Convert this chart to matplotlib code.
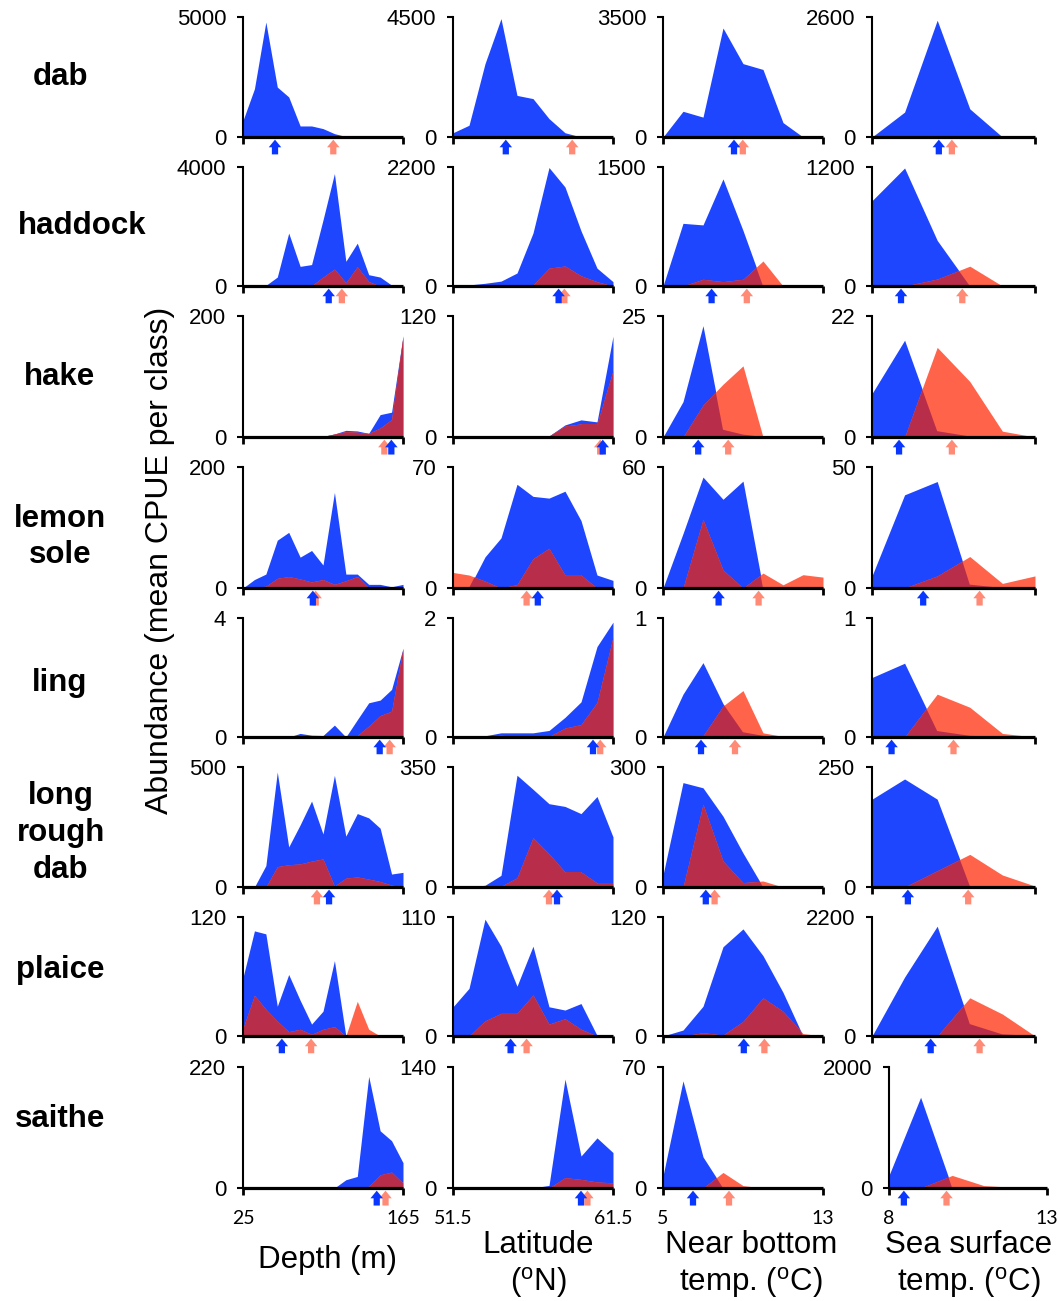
import matplotlib
matplotlib.use("Agg")
import matplotlib.pyplot as plt
import matplotlib.transforms as mtransforms

plt.rcParams['font.family'] = ['Liberation Sans', 'DejaVu Sans']
plt.rcParams['mathtext.fontset'] = 'custom'
plt.rcParams['mathtext.rm'] = 'Liberation Sans'

# x classes of the four environmental variables
depth = [25, 35, 45, 55, 65, 75, 85, 95, 105, 115, 125, 135, 145, 155, 165]
lat = [51.5, 52.5, 53.5, 54.5, 55.5, 56.5, 57.5, 58.5, 59.5, 60.5, 61.5]
nbt = [5, 6, 7, 8, 9, 10, 11, 12, 13]
sst = [8, 9, 10, 11, 12, 13]
x_classes = [depth, lat, nbt, sst]
x_labels = ['Depth (m)', 'Latitude\n($^{\\rm o}$N)',
            'Near bottom\ntemp. ($^{\\rm o}$C)', 'Sea surface\ntemp. ($^{\\rm o}$C)']

species = ['dab', 'haddock', 'hake', 'lemon\nsole', 'ling',
           'long\nrough\ndab', 'plaice', 'saithe']

# axis maxima (depth, lat, nbt, sst) per species
ymax = [[5000, 4500, 3500, 2600],
        [4000, 2200, 1500, 1200],
        [200, 120, 25, 22],
        [200, 70, 60, 50],
        [4, 2, 1, 1],
        [500, 350, 300, 250],
        [120, 110, 120, 2200],
        [220, 140, 70, 2000]]

# mean CPUE per class, blue series (depth, lat, nbt, sst)
dab_blue = [[690, 2010, 4790, 2080, 1670, 460, 460, 350, 140, 20, 0, 0, 0, 0, 0],
            [160, 440, 2750, 4440, 1560, 1440, 690, 160, 0, 0, 0],
            [0, 750, 580, 3180, 2140, 1970, 420, 0, 0],
            [0, 540, 2530, 610, 0, 0]]
dab_red = [[0, 5, 10, 10, 10, 10, 10, 10, 5, 5, 0, 0, 0, 0, 0],
           [0, 0, 0, 5, 10, 10, 10, 10, 5, 0, 0],
           [0, 0, 5, 10, 10, 5, 0, 0, 0],
           [0, 0, 20, 0, 0, 0]]

haddock_blue = [[0, 10, 20, 300, 1780, 660, 720, 2220, 3780, 830, 1440, 380, 300, 30, 0],
                [0, 20, 50, 90, 240, 980, 2190, 1830, 1020, 330, 80],
                [0, 790, 770, 1350, 700, 0, 0, 0, 0],
                [860, 1190, 460, 0, 0, 0]]
haddock_red = [[0, 0, 0, 5, 5, 5, 10, 300, 570, 110, 650, 150, 0, 0, 0],
               [0, 0, 0, 0, 0, 20, 330, 370, 190, 80, 0],
               [0, 0, 85, 55, 85, 315, 0, 0, 0],
               [0, 0, 70, 200, 0, 0]]

hake_blue = [[0, 0, 0, 1, 1, 1, 1, 1, 5, 11, 10, 6, 37, 41, 167],
             [0, 0, 0, 0, 0, 1, 1, 12, 17, 15, 100],
             [0, 7.3, 23, 1.5, 0.5, 0, 0, 0, 0],
             [7.9, 17.6, 1.06, 0.1, 0, 0]]
hake_red = [[0, 0, 0, 1, 1, 1, 1, 1, 5, 9, 8, 6, 15, 29, 167],
            [0, 0, 0, 0, 1, 1, 1, 11, 13, 13, 66],
            [0, 0, 6.6, 10.9, 14.7, 0, 0, 0, 0],
            [0, 0, 16.3, 10.1, 1.06, 0]]

lemon_sole_blue = [[0, 14, 23, 79, 92, 51, 62, 38, 158, 23, 23, 6, 6, 2, 6],
                   [0, 0, 18, 29, 60, 53, 52, 56, 39, 7.5, 4.4],
                   [0, 27, 55, 44, 53, 0, 0, 0, 0],
                   [5, 38.5, 44, 1.4, 0, 0]]
lemon_sole_red = [[0, 1, 3, 16, 19, 15, 10, 14, 6, 12, 19, 0, 0, 0, 0],
                  [9, 7.5, 4, 0, 2, 17, 23, 7.5, 7.5, 0, 0],
                  [0, 0, 34, 9, 0, 7.4, 1.6, 6.6, 5.4],
                  [0, 0, 5, 13, 1.9, 5]]

ling_blue = [[0, 0, 0.05, 0, 0, 0.12, 0.06, 0.05, 0.4, 0, 0.58, 1.15, 1.24, 1.6, 2.98],
             [0, 0, 0.02, 0.07, 0.07, 0.07, 0.11, 0.33, 0.59, 1.52, 1.93],
             [0, 0.36, 0.625, 0.28, 0.04, 0.01, 0, 0, 0],
             [0.5, 0.62, 0.05, 0.01, 0, 0]]
ling_red = [[0, 0, 0, 0, 0, 0, 0.05, 0.05, 0.05, 0.05, 0.05, 0.37, 0.72, 0.87, 2.98],
            [0, 0, 0.01, 0.03, 0.01, 0.01, 0.01, 0.15, 0.21, 0.58, 1.68],
            [0, 0, 0.01, 0.26, 0.39, 0.035, 0.005, 0, 0],
            [0, 0, 0.36, 0.25, 0.03, 0]]

long_rough_dab_blue = [[0, 0, 89, 479, 167, 259, 358, 221, 465, 212, 306, 288, 245, 54, 61],
                       [0, 0, 5, 34, 326, 285, 243, 235, 214, 264, 146],
                       [30, 261, 248, 177, 85, 0, 0, 0, 0],
                       [183, 225, 183, 2, 0, 0]]
long_rough_dab_red = [[0, 0, 0, 85, 93, 96, 108, 117, 4, 37, 42, 33, 23, 8, 0],
                      [0, 0, 0, 2, 27, 144, 97, 44, 44, 12, 12],
                      [0, 0, 207, 65, 11, 15, 0, 0, 0],
                      [0, 0, 34, 68, 25, 2]]

plaice_blue = [[59, 106, 103, 30, 62, 36, 12, 25, 76, 0, 1, 1, 0, 0, 0],
               [27, 44, 108, 83, 46, 83, 27, 24, 30, 0.6, 0],
               [0, 6, 30, 90, 108, 81, 44, 0, 0],
               [0, 1090, 2030, 220, 30, 0]]
plaice_red = [[8, 41, 27, 15, 4.4, 6.8, 1.7, 6.8, 9.5, 0, 35, 6.8, 0, 0, 0],
              [0, 0, 14, 21, 21, 38, 11, 16, 6.3, 0, 0],
              [0, 0, 3.4, 1, 14.7, 38.5, 25, 2.4, 0],
              [0, 0, 0, 706, 406, 0]]

saithe_blue = [[0, 0, 0, 0, 0, 2, 0, 2, 0, 15, 21, 203, 104, 86, 46],
               [0, 0, 0, 0, 0, 0, 3, 126, 37, 58, 41],
               [7, 62, 18, 0, 0, 0, 0, 0, 0],
               [210, 1500, 0, 0, 0, 0]]
saithe_red = [[0, 0, 0, 0, 0, 0, 0, 0, 0, 0, 1, 3, 24, 29, 9],
              [0, 0, 0, 0, 0, 0, 0, 12, 10, 7, 6],
              [0, 0, 0, 9, 1.4, 0, 0, 0, 0],
              [0, 0, 208, 40, 10, 0]]

blue_series = [dab_blue, haddock_blue, hake_blue, lemon_sole_blue, ling_blue,
               long_rough_dab_blue, plaice_blue, saithe_blue]
red_series = [dab_red, haddock_red, hake_red, lemon_sole_red, ling_red,
              long_rough_dab_red, plaice_red, saithe_red]

# mean positions marked by arrows (depth, lat, nbt, sst)
blue_means = [[53, 54.8, 8.55, 10.05],
              [100, 58.1, 7.43, 8.89],
              [154.8, 60.86, 6.76, 8.83],
              [86.1, 56.8, 7.78, 9.57],
              [144.6, 60.25, 6.9, 8.6],
              [100.3, 58.0, 7.14, 9.1],
              [59, 55.1, 9.04, 9.8],
              [142, 59.5, 6.5, 8.47]]
red_means = [[104, 58.95, 8.99, 10.45],
             [111.5, 58.46, 9.19, 10.77],
             [148.7, 60.7, 8.26, 10.45],
             [88.6, 56.1, 9.78, 11.3],
             [153.3, 60.7, 8.6, 10.5],
             [89.7, 57.5, 7.58, 10.95],
             [84.6, 56.1, 10.07, 11.3],
             [149.7, 59.9, 8.3, 9.82]]

BLUE = '#1E46FF'
RED = '#FF644B'
OVERLAP = '#B82E4A'
BLUE_ARROW = '#0A37FF'
RED_ARROW = '#FF8A75'

W, H = 1060, 1301
fig = plt.figure(figsize=(W / 100, H / 100), dpi=100)

row_top = [17, 167, 316, 467, 618, 767, 917, 1067]
row_zero = [137, 286, 437, 588, 737, 887, 1036, 1188]
col_left = [243, 453, 663, 872]
col_right = [403, 613, 823, 1035]
label_x = [61, 82, 60, 60, 60, 61, 60, 60]
label_y = [77, 226, 377, 537, 683, 833, 970, 1119]

arrow_style = 'simple,head_length=0.55,head_width=0.9,tail_width=0.45'


def draw_arrow(ax, xm, color):
    trans = mtransforms.blended_transform_factory(ax.transData, ax.transAxes)
    ax.annotate('', xy=(xm, -0.022), xytext=(xm, -0.145), xycoords=trans,
                textcoords=trans, annotation_clip=False,
                arrowprops=dict(arrowstyle=arrow_style, color=color, lw=0,
                                shrinkA=0, shrinkB=0, mutation_scale=10))


for i, sp in enumerate(species):
    for j in range(4):
        left, right = col_left[j], col_right[j]
        if i == 7 and j == 3:
            # last panel sits a little further right in the original
            left, right = 889, 1047
        top, zero = row_top[i], row_zero[i]
        ax = fig.add_axes([left / W, 1 - zero / H, (right - left) / W, (zero - top) / H])

        x = x_classes[j]
        blue = blue_series[i][j]
        red = red_series[i][j]
        bpoly = ax.fill_between(x, 0, blue, color=BLUE, lw=0, zorder=1)
        ax.fill_between(x, 0, red, color=RED, lw=0, zorder=1.1)
        over = ax.fill_between(x, 0, red, color=OVERLAP, lw=0, zorder=1.2)
        over.set_clip_path(bpoly.get_paths()[0], ax.transData)

        draw_arrow(ax, red_means[i][j], RED_ARROW)
        draw_arrow(ax, blue_means[i][j], BLUE_ARROW)

        ax.set_xlim(x[0], x[-1])
        ax.set_ylim(0, ymax[i][j])
        for s in ['top', 'right']:
            ax.spines[s].set_visible(False)
        ax.spines['left'].set_linewidth(1.5)
        ax.spines['bottom'].set_linewidth(2.3)
        ax.spines['bottom'].set_capstyle('butt')

        ax.set_yticks([0, ymax[i][j]])
        ax.set_yticklabels(['0', f'{ymax[i][j]:g}'])
        ax.tick_params(axis='y', length=4, width=1.5, pad=8, labelsize=16)
        ax.set_xticks([x[0], x[-1]])
        if i == 7:
            ax.set_xticklabels([f'{x[0]:g}', f'{x[-1]:g}'], family=['Lato', 'DejaVu Sans'])
            ax.tick_params(axis='x', length=5, width=2, pad=11, labelsize=14)
        else:
            ax.tick_params(axis='x', length=5, width=2, labelbottom=False)

    # species name on the left
    fig.text(label_x[i] / W, 1 - label_y[i] / H, sp,
             ha='center', va='center', fontsize=22.5, fontweight='bold',
             linespacing=1.3)

fig.text(160 / W, 1 - 560 / H, 'Abundance (mean CPUE per class)', rotation=90,
         ha='center', va='center', fontsize=23)

label_cx = [327, 538, 751, 969]
label_cy = [1260, 1265, 1265, 1265]
for j, lab in enumerate(x_labels):
    fig.text(label_cx[j] / W, 1 - label_cy[j] / H, lab, ha='center', va='center',
             fontsize=22.5, linespacing=1.2)

fig.savefig('out.png', dpi=100)
